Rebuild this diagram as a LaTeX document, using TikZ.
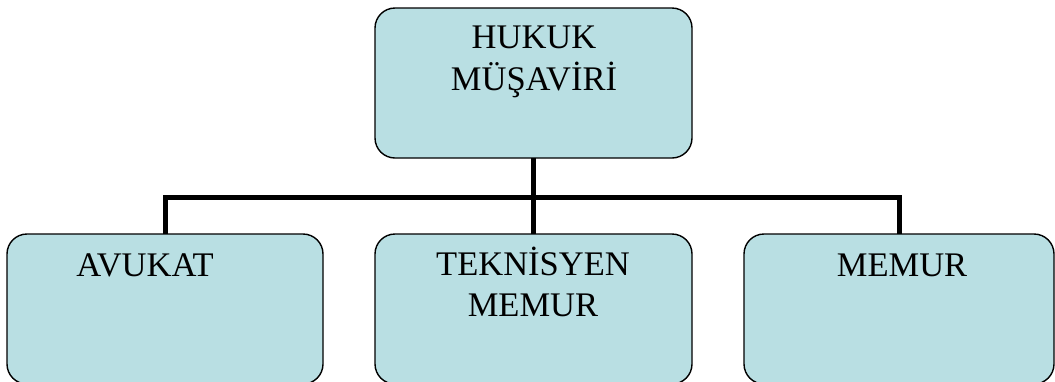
\documentclass[tikz,border=0pt]{standalone}
\usepackage{fontspec}
\setmainfont{Liberation Serif}
\definecolor{boxfill}{RGB}{185,223,227}
\begin{document}
\begin{tikzpicture}[x=1pt,y=-1pt,
  box/.style={draw=black,line width=1.4pt,fill=boxfill,rounded corners=20pt,
    rectangle,inner sep=0pt,outer sep=0pt,anchor=north west},
  lbl/.style={font=\fontsize{34.5}{42}\selectfont,inner sep=0pt,anchor=base,text=black},
  conn/.style={line width=5pt,draw=black}]
\useasboundingbox (0,0) rectangle (1055,381);
\fill[white] (0,0) rectangle (1055,381);
\node[box,minimum width=317pt,minimum height=150pt] (top) at (375,8) {};
\node[box,minimum width=316pt,minimum height=150pt] (avu) at (7,234) {};
\node[box,minimum width=317pt,minimum height=150pt] (mid) at (375,234) {};
\node[box,minimum width=310pt,minimum height=150pt] (mem) at (744,234) {};
\coordinate (bar) at (533.5,197);
\draw[conn] (top.south) -- (mid.north);
\draw[conn] (avu.north) |- (bar) -| (mem.north);
\node[lbl] (t1) at (534,48) {HUKUK};
\node[lbl] (t2) at (534,90) {MÜŞAVİRİ};
\node[lbl] (a1) at (145,276) {AVUKAT};
\node[lbl] (m1) at (533,275) {TEKNİSYEN};
\node[lbl] (m2) at (533,316) {MEMUR};
\node[lbl] (r1) at (902,276) {MEMUR};
\end{tikzpicture}
\end{document}
